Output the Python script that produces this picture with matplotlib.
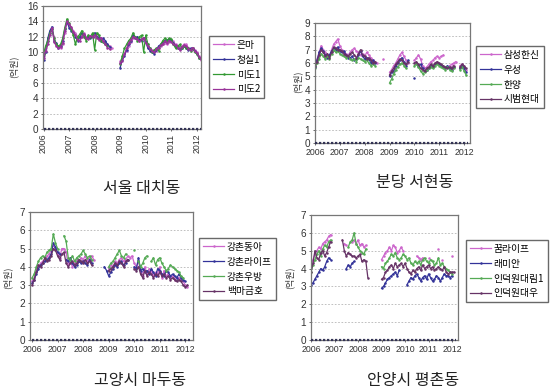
import numpy as np
import matplotlib
matplotlib.use("Agg")
import matplotlib.pyplot as plt

plt.rcParams['font.family'] = ['Noto Sans CJK KR', 'DejaVu Sans']

N = np.nan
n_months = 75  # Jan 2006 .. Mar 2012
years = [2006, 2007, 2008, 2009, 2010, 2011, 2012]

# ---------------- Seoul Daechi ----------------
p1_names = ['은마', '청실1', '미도1', '미도2']
p1_eunma = [9.5, 10.5, 11.5, 12.5, 13.0, 12.0, 11.0, 10.8, 10.5, 11.0, 12.5, 13.8,
            13.5, 13.2, 12.8, 12.5, 12.0, 11.8, 12.2, 12.5, 12.0, 11.8, 12.0, 12.2,
            12.0, 12.3, 12.0, 11.8, 11.5, 11.2, 11.0, 10.8, 10.5, N, N, N,
            8.8, 9.2, 9.8, 10.2, 10.8, 11.3, 11.8, 12.0, 11.8, 11.5, 11.6, 11.8,
            11.5, 11.0, 10.5, 10.3, 10.0, 10.2, 10.5, 10.8, 11.0, 11.2, 11.0, 11.3,
            11.5, 11.4, 11.0, 10.8, 10.6, 10.8, 11.0, 11.0, 10.6, 10.4, 10.5, 10.3,
            10.0, 9.5, 9.0]
p1_cheongsil = [9.0, 10.0, 11.8, 12.8, 13.3, 11.5, 11.2, 10.6, 10.8, 11.5, 13.0, 14.0,
                13.2, 12.8, 12.5, 12.0, 11.5, 12.0, 12.5, 12.2, 11.8, 12.0, 11.8, 12.0,
                12.5, 12.0, 11.8, 11.5, 11.8, 11.5, 11.0, 10.7, N, N, N, N,
                8.0, 9.0, 9.5, 10.3, 11.0, 11.5, 12.2, 11.8, 12.0, 11.7, 11.5, 11.8,
                11.3, 10.5, 10.2, 10.0, 9.8, 10.3, 10.8, 11.0, 11.3, 11.5, 11.6, 11.7,
                11.6, 11.2, 10.8, 10.5, 10.4, 10.6, 10.8, 10.5, 10.3, 10.5, 10.4, 10.2,
                9.8, 9.3, N]
p1_mido1 = [9.8, 10.8, 11.5, 12.5, 13.0, 11.8, 11.0, 10.8, 11.0, 11.8, 13.2, 14.3,
            13.8, 13.0, 12.2, 11.0, 12.0, 12.3, 12.8, 12.0, 11.5, 12.2, 12.0, 12.5,
            10.3, 12.5, 12.2, 11.5, 11.3, 11.0, 10.8, N, N, N, N, N,
            8.5, 9.5, 10.5, 11.0, 11.5, 11.8, 12.5, 12.0, 11.5, 12.0, 12.2, 10.0,
            12.2, 11.0, 10.5, 10.0, 10.3, 10.5, 10.2, 11.0, 11.5, 11.8, 11.5, 11.8,
            11.7, 11.0, 10.5, 10.8, 11.0, 10.5, 10.8, 10.6, 10.5, 10.2, 10.5, 10.0,
            9.8, 9.2, N]
p1_mido2 = [9.2, 10.2, 11.0, 12.2, 13.2, 11.3, 10.8, 10.5, 10.7, 11.2, 12.8, 14.0,
            13.6, 13.3, 12.6, 12.2, 11.6, 11.5, 12.0, 12.4, 11.9, 11.7, 12.1, 12.0,
            12.2, 11.9, 11.6, 11.9, 11.4, 11.0, 10.6, 10.4, N, N, N, N,
            8.6, 8.9, 9.7, 10.5, 11.2, 11.6, 12.0, 11.9, 11.7, 11.4, 11.7, 11.9,
            11.2, 10.8, 10.4, 10.1, 10.0, 10.4, 10.6, 10.9, 11.1, 11.4, 11.2, 11.5,
            11.3, 11.1, 10.9, 10.6, 10.3, 10.7, 10.9, 10.8, 10.4, 10.3, 10.6, 10.1,
            9.9, 9.4, 9.1]

# ---------------- Bundang Seohyeon ----------------
p2_names = ['삼성한신', '우성', '한양', '시범현대']
p2_samsung = [5.9, 6.3, 6.8, 7.3, 7.0, 6.8, 6.6, 6.5, 7.0, 7.4, 7.6, 7.8,
              7.3, 7.0, 6.8, 6.7, 6.6, 6.8, 7.0, 7.1, 6.9, 6.8, 6.6, 6.7,
              6.5, 6.8, 6.6, 6.4, 6.2, 6.1, 6.0, N, N, 6.3, N, N,
              5.3, 5.5, 5.8, 6.0, 6.3, 6.6, 6.8, 6.5, 6.2, 6.0, N, N,
              6.2, 6.4, 6.6, 6.3, 5.8, 5.6, 5.7, 5.9, 6.1, 6.2, 6.4, 6.5,
              6.4, 6.5, 6.6, N, N, 5.8, 5.9, 6.0, 6.1, N, 5.8, 5.9,
              5.7, 5.5, N]
p2_woosung = [5.7, 6.2, 6.8, 7.1, 6.9, 6.6, 6.4, 6.6, 6.9, 7.1, 7.0, 7.2,
              6.9, 6.8, 6.9, 6.6, 6.4, 6.4, 6.5, 6.2, 6.3, 6.6, 6.9, 6.5,
              6.3, 6.4, 6.3, 6.0, 6.2, 6.0, N, N, N, N, N, N,
              5.0, 5.3, 5.4, 5.8, 6.0, 6.2, 6.4, 6.1, 5.8, 6.2, N, N,
              4.9, N, 5.8, 5.9, 5.6, 5.4, 5.5, 5.6, 5.8, 5.7, 5.9, 6.0,
              5.9, 5.8, 5.7, 5.6, 5.8, 5.6, 5.5, 5.7, N, N, 5.6, 5.8,
              5.6, 5.3, N]
p2_hanyang = [5.6, 6.0, 6.3, 6.7, 6.5, 6.3, 6.5, 6.3, 6.7, 7.0, 6.8, 6.9,
              6.7, 6.6, 6.5, 6.4, 6.5, 6.3, 6.2, 6.3, 6.1, 6.4, 6.3, 6.2,
              6.1, 6.2, 6.0, 5.8, 5.9, 5.8, N, N, N, N, N, N,
              4.5, 4.8, 5.2, 5.5, 5.7, 5.9, 6.0, 5.8, 5.6, N, N, N,
              5.8, 5.9, 5.7, 5.4, 5.2, 5.3, 5.5, 5.6, 5.7, 5.6, 5.8, 5.9,
              5.8, 5.7, 5.6, 5.5, 5.7, 5.5, 5.4, 5.6, N, N, 5.5, 5.7,
              5.4, 5.1, N]
p2_sibum = [5.8, 6.1, 6.6, 7.0, 6.8, 6.5, 6.7, 6.4, 6.8, 7.2, 7.1, 7.0,
            7.0, 6.9, 6.7, 6.6, 6.5, 6.7, 6.8, 6.6, 6.4, 6.7, 7.0, 6.6,
            6.5, 6.3, 6.4, 6.2, 6.0, 6.1, N, N, N, N, N, N,
            5.1, 5.4, 5.6, 5.9, 6.1, 6.3, 6.2, 6.0, 5.9, 6.1, N, N,
            6.0, 6.1, 5.9, 5.6, 5.5, 5.4, 5.6, 5.7, 5.9, 5.8, 6.0, 6.1,
            6.0, 5.9, 5.8, 5.7, 5.6, 5.7, 5.6, 5.8, N, N, 5.7, 5.9,
            5.8, 5.6, N]

# ---------------- Goyang Madu ----------------
p3_names = ['강촌동아', '강촌라이프', '강촌우방', '백마금호']
p3_donga = [3.2, 3.4, 3.8, 4.0, 4.2, 4.3, 4.4, 4.6, 4.7, 4.9, 5.2, 5.0,
            4.7, 4.5, 5.0, 5.0, 4.8, 4.1, 4.3, 4.0, 4.2, 4.4, 4.3, 4.5,
            4.4, 4.6, 4.3, 4.5, 4.6, 4.4, N, N, N, N, N, N,
            3.9, 4.1, 4.0, 4.3, 4.2, 4.4, 4.5, 4.3, 4.4, 4.6, 4.5, 4.6,
            4.2, 4.0, 4.3, 3.7, 3.5, 4.0, 3.6, 3.9, 3.8, 3.5, 3.7, 3.6,
            4.0, 3.4, 3.8, 3.5, 3.6, 3.4, 3.5, 3.3, 3.4, 3.4, 3.3, 3.2,
            3.0, 2.9, N]
p3_life = [3.1, 3.3, 3.6, 3.9, 4.1, 4.2, 4.3, 4.4, 4.5, 4.7, 5.3, 5.1,
           4.8, 4.7, N, N, 4.4, 4.3, 4.5, 4.2, 4.0, 4.1, 4.3, 4.2,
           4.3, 4.2, 4.1, 4.4, 4.2, N, N, N, N, N, 4.0, 3.8,
           3.5, 3.7, 3.9, 4.1, 4.0, 4.2, 4.3, 4.1, 4.2, 4.4, N, N,
           4.0, 3.9, 4.5, 3.8, 3.9, 3.7, 3.8, 3.6, 3.9, 3.7, 3.5, 3.9,
           3.8, 3.6, 3.5, 3.8, 3.7, 3.5, 3.6, 3.5, 3.4, 3.6, 3.4, 3.3,
           3.2, N, N]
p3_woobang = [3.4, 3.6, 4.0, 4.3, 4.5, 4.6, 4.5, 4.8, 4.9, 5.0, 5.8, 5.3,
              5.0, N, N, 5.7, 5.4, 4.5, 4.4, 4.6, 4.3, 4.5, 4.6, 4.7,
              4.9, 4.7, 4.5, 4.6, 4.4, N, N, N, N, N, N, N,
              4.0, 4.2, 4.3, 4.5, 4.7, 4.9, 4.6, 4.5, 4.7, N, N, N,
              4.9, N, 4.3, 4.0, 4.2, 4.5, 4.6, N, 4.3, 4.5, 4.1, 4.4,
              4.5, 4.2, 4.0, 3.8, 3.9, 4.1, 4.0, 3.9, 3.8, 3.7, 3.5, 3.4,
              N, N, N]
p3_kumho = [3.0, 3.3, 3.7, 4.1, 4.0, 4.2, 4.5, 4.3, 4.4, 4.6, 5.0, 4.9,
            4.6, 4.4, 4.7, 4.8, 4.2, 4.0, 4.2, 4.3, 4.1, 4.2, 4.4, 4.3,
            4.2, 4.4, 4.2, 4.3, 4.1, N, N, N, N, N, N, N,
            3.8, 3.9, 4.0, 4.2, 4.1, 4.3, 4.2, 4.0, 4.3, 4.4, N, N,
            3.9, 3.8, 4.0, 3.6, 3.4, 3.8, 3.5, 3.7, 3.6, 3.4, 3.6, 3.5,
            3.7, 3.5, 3.6, 3.4, 3.5, 3.3, 3.4, 3.3, 3.2, 3.3, 3.2, 3.0,
            2.9, 3.0, N]

# ---------------- Anyang Pyeongchon ----------------
p4_names = ['꿈라이프', '래미안', '인덕원대림1', '인덕원대우']
p4_kkum = [4.2, 4.5, 4.8, 5.0, 5.2, 5.1, 5.4, 5.5, 5.6, 5.8, 5.9, N,
           N, N, N, N, N, 5.4, 5.3, N, N, 5.5, 5.6, 5.4,
           5.6, 5.3, 5.4, 5.2, 5.3, N, N, N, N, N, N, N,
           4.5, 4.7, 4.9, 5.0, 5.2, 5.0, 5.3, 5.2, 4.9, 5.0, 5.2, 5.0,
           N, N, N, N, N, N, 4.7, 4.6, 4.5, 4.6, N, N,
           4.6, N, N, N, N, 5.1, N, 4.5, N, N, N, N,
           4.7, N, N]
p4_raemian = [3.1, 3.2, 3.4, 3.6, 3.8, 4.0, 3.9, 4.1, 4.4, 4.6, 4.5, N,
              N, N, N, N, N, N, 4.0, 4.2, 4.1, 4.3, 4.4, N,
              N, N, N, N, N, N, N, N, N, N, N, N,
              2.9, 3.0, 3.2, 3.4, 3.5, 3.6, 3.7, 3.8, 3.6, 3.9, N, N,
              N, 3.1, 3.3, 3.5, 3.4, 3.6, 3.7, 3.5, 3.3, 3.5, 3.6, 3.4,
              3.7, 3.5, 3.3, 3.4, 3.6, 3.5, 3.3, 3.5, 3.7, 3.6, 3.6, 3.5,
              3.6, N, N]
p4_daerim = [3.8, 4.2, 4.5, 4.8, 5.0, 4.7, 5.1, 5.3, 5.2, 5.5, 5.6, N,
             N, N, N, N, N, N, N, 5.2, 5.5, 5.6, 6.0, 5.4,
             5.2, 5.0, 4.9, 4.8, 5.1, N, N, N, N, N, N, N,
             4.1, 4.0, 4.3, 4.4, 4.6, 4.8, 4.7, 4.9, 4.6, 4.5, 4.6, 4.8,
             4.7, 4.5, 4.6, 4.3, 4.2, 4.4, 4.3, 4.4, 4.2, 4.5, 4.6, 4.4,
             4.3, 4.5, 4.4, 4.2, 4.3, 4.6, 4.2, 4.3, 4.1, 4.0, 3.9, 3.8,
             3.7, N, N]
p4_daewoo = [3.8, 4.3, 5.0, 4.6, 4.5, 4.9, 5.0, 4.7, 4.9, 5.2, 5.5, N,
             N, N, N, N, 5.6, 5.0, 4.7, 4.9, 4.8, 4.7, 4.7, 4.6,
             4.7, 4.8, 4.4, 4.5, 4.4, 3.5, N, N, N, N, N, N,
             3.4, 3.5, 3.8, 3.9, 4.1, 4.2, 4.0, 4.3, 4.1, 4.2, 4.3, 4.1,
             4.3, 4.0, 3.8, 3.7, 3.9, 3.8, 4.0, 4.1, 3.9, 4.2, 4.0, 4.1,
             4.2, 4.0, 4.1, 3.9, 4.0, 4.1, 4.0, 3.9, 4.1, 3.8, 3.7, 3.8,
             3.8, 3.8, N]

colors = ['#cc66cc', '#333399', '#339933', '#993399']
colors2 = ['#cc66cc', '#333399', '#55aa55', '#663366']

W, H = 550, 392
fig = plt.figure(figsize=(W / 100, H / 100), dpi=100)

def fx(px):
    return px / W

def fy(py):
    return 1 - py / H

xm = 2006 + np.arange(n_months) / 12.0

panels = [
    dict(rect=(43, 6, 201, 129), ylim=(0, 16), ystep=2, xlim=(2005.98, 2012.16),
         series=[p1_eunma, p1_cheongsil, p1_mido1, p1_mido2], names=p1_names,
         cols=colors, rot=90, title='서울 대치동', tpos=(142, 188),
         leg=(209, 36), ylab=(13, 67)),
    dict(rect=(315, 23, 470, 143), ylim=(0, 9), ystep=1, xlim=(2006.0, 2012.24),
         series=[p2_samsung, p2_woosung, p2_hanyang, p2_sibum], names=p2_names,
         cols=colors2, rot=0, title='분당 서현동', tpos=(415, 183),
         leg=(476, 46), ylab=(297, 82)),
    dict(rect=(30, 212, 193, 340), ylim=(0, 7), ystep=1, xlim=(2005.92, 2012.3),
         series=[p3_donga, p3_life, p3_woobang, p3_kumho], names=p3_names,
         cols=colors2, rot=0, title='고양시 마두동', tpos=(140, 381),
         leg=(199, 238), ylab=(7, 278)),
    dict(rect=(311, 215, 458, 340), ylim=(0, 7), ystep=1, xlim=(2006.0, 2012.25),
         series=[p4_kkum, p4_raemian, p4_daerim, p4_daewoo], names=p4_names,
         cols=colors2, rot=0, title='안양시 평촌동', tpos=(413, 381),
         leg=(466, 240), ylab=(289, 278)),
]

for p in panels:
    x0, y0, x1, y1 = p['rect']
    ax = fig.add_axes([fx(x0), fy(y1), fx(x1 - x0), (y1 - y0) / H])
    ax.set_xlim(*p['xlim'])
    ax.set_ylim(*p['ylim'])
    ax.set_yticks(np.arange(p['ylim'][0], p['ylim'][1] + 0.01, p['ystep']))
    ax.set_xticks(years)
    ax.set_xticklabels([str(y) for y in years], rotation=p['rot'],
                       fontsize=6.3, family=['Liberation Sans', 'DejaVu Sans'], color='#333333')
    for lab in ax.get_yticklabels():
        lab.set_fontsize(7.2)
        lab.set_family(['Liberation Sans', 'DejaVu Sans'])
        lab.set_color('#333333')
    ax.tick_params(length=1.5, width=0.6, pad=2, colors='#555555', labelcolor='#333333')
    ax.grid(axis='y', color='#b5b5b5', ls=(0, (2, 2)), lw=0.6)
    ax.set_axisbelow(True)
    for s in ax.spines.values():
        s.set_color('#777777')
        s.set_linewidth(0.9)
    handles = []
    for vals, name, c in zip(p['series'], p['names'], p['cols']):
        h, = ax.plot(xm, np.array(vals, dtype=float), color=c, lw=0.9,
                     marker='.', ms=1.6, label=name, clip_on=True)
        handles.append(h)
    ax.plot(xm, np.zeros(n_months), color='#333355', lw=1.6,
            ls=(0, (1, 0.8)), clip_on=False, zorder=3)
    fig.legend(handles=handles, labels=p['names'], loc='upper left',
               bbox_to_anchor=(fx(p['leg'][0]), fy(p['leg'][1])),
               fontsize=7, frameon=True, fancybox=False, edgecolor='#444444',
               handlelength=2.2, handletextpad=0.25, labelspacing=0.5,
               borderpad=0.4, borderaxespad=0)
    fig.text(fx(p['tpos'][0]), fy(p['tpos'][1]), p['title'], ha='center', va='center',
             fontsize=11.5, color='#222222')
    fig.text(fx(p['ylab'][0]), fy(p['ylab'][1]), '(억원)', ha='center', va='center',
             rotation=90, fontsize=6.5, color='#333333')

fig.savefig('out.png', dpi=100)
